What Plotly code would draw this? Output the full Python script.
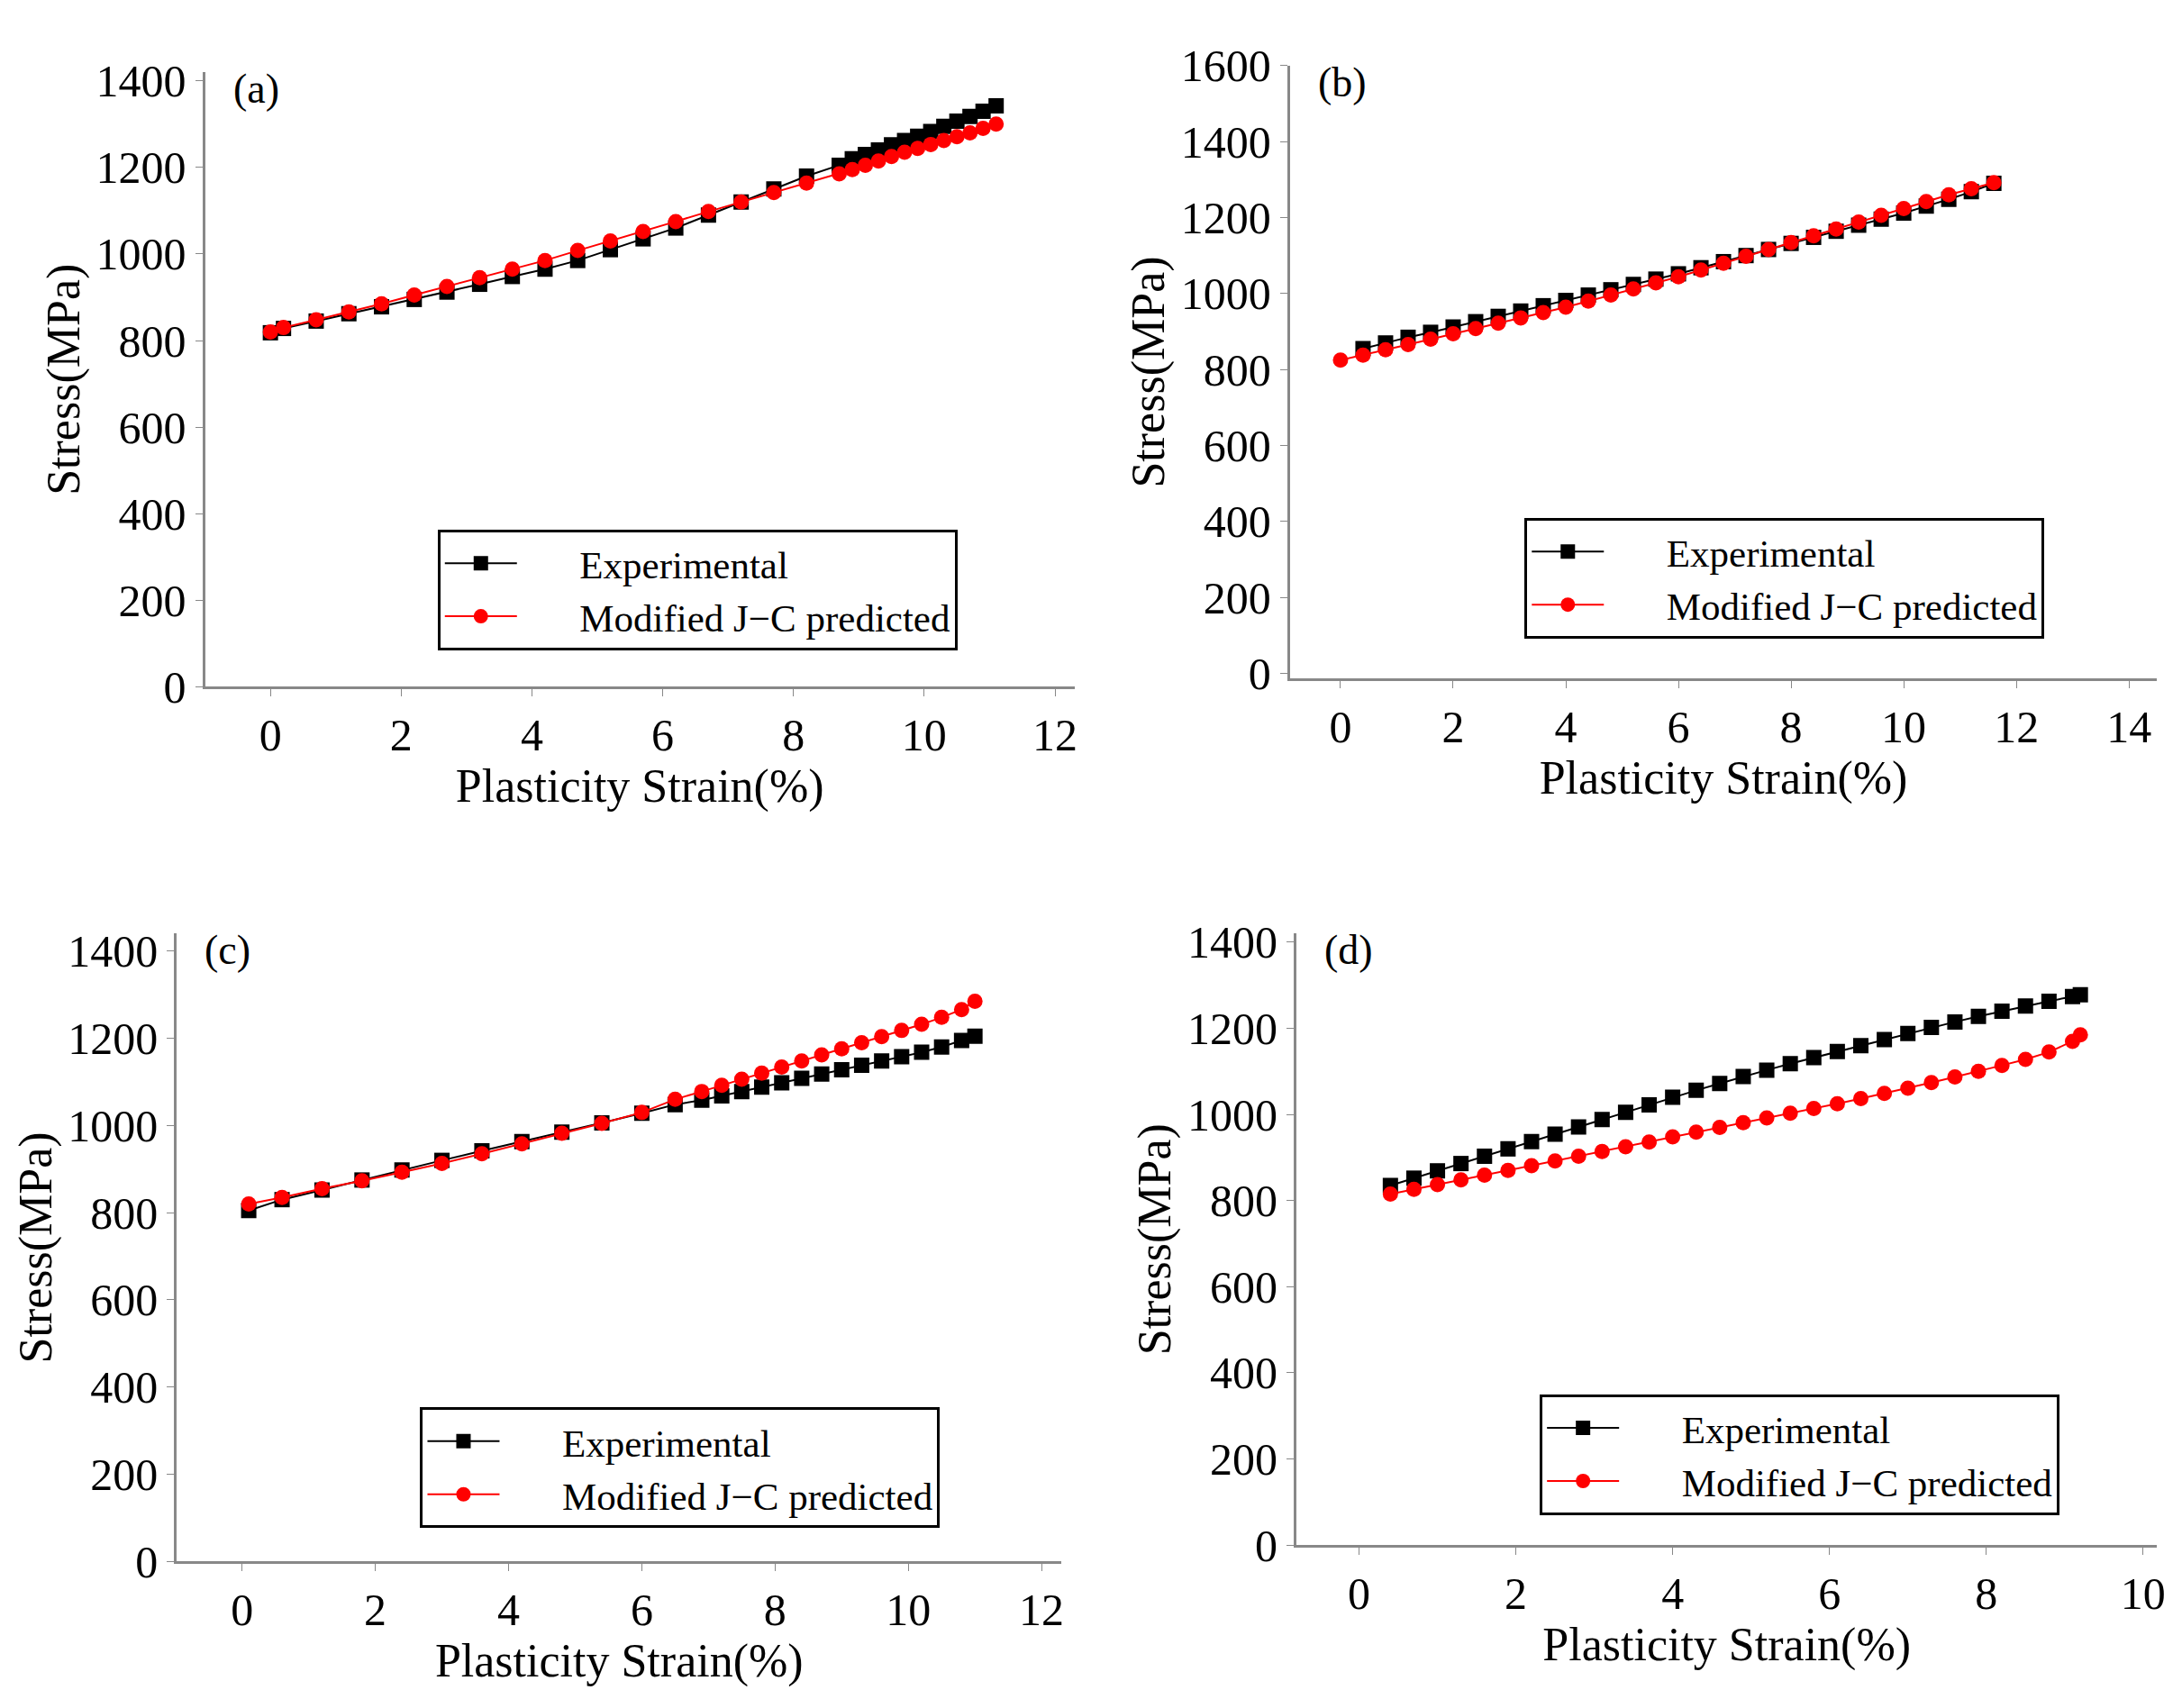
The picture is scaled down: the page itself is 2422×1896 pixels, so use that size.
import plotly.graph_objects as go

# (a)
a_x = [0,0.2,0.7,1.2,1.7,2.2,2.7,3.2,3.7,4.2,4.7,5.2,5.7,6.2,6.7,7.2,7.7,8.2,8.7,8.9,9.1,9.3,9.5,9.7,9.9,10.1,10.3,10.5,10.7,10.9,11.1]
a_exp = [818,828,845,862,878,895,912,930,948,965,985,1010,1035,1060,1090,1120,1150,1180,1205,1220,1230,1240,1252,1262,1272,1283,1295,1307,1318,1330,1342]
a_jc = [820,830,848,866,885,905,925,945,965,985,1008,1030,1052,1075,1098,1120,1142,1164,1185,1195,1205,1215,1225,1235,1244,1253,1262,1271,1280,1290,1300]
# (b)
b_x_exp = [0.4,0.8,1.2,1.6,2.0,2.4,2.8,3.2,3.6,4.0,4.4,4.8,5.2,5.6,6.0,6.4,6.8,7.2,7.6,8.0,8.4,8.8,9.2,9.6,10.0,10.4,10.8,11.2,11.6]
b_exp = [855,870,885,898,912,926,940,954,968,982,996,1010,1024,1038,1052,1068,1084,1100,1116,1132,1148,1164,1180,1196,1212,1230,1248,1268,1290]
b_x_jc = [0,0.4,0.8,1.2,1.6,2.0,2.4,2.8,3.2,3.6,4.0,4.4,4.8,5.2,5.6,6.0,6.4,6.8,7.2,7.6,8.0,8.4,8.8,9.2,9.6,10.0,10.4,10.8,11.2,11.6]
b_jc = [825,838,852,866,880,894,908,922,936,950,964,980,996,1012,1028,1044,1062,1080,1098,1116,1134,1152,1170,1188,1206,1224,1242,1260,1276,1292]
# (c)
c_x = [0.1,0.6,1.2,1.8,2.4,3.0,3.6,4.2,4.8,5.4,6.0,6.5,6.9,7.2,7.5,7.8,8.1,8.4,8.7,9.0,9.3,9.6,9.9,10.2,10.5,10.8,11.0]
c_exp = [805,830,852,875,898,920,942,963,985,1006,1028,1048,1058,1068,1078,1088,1098,1108,1118,1128,1138,1148,1158,1168,1180,1195,1205]
c_jc = [820,835,855,873,893,913,935,958,982,1005,1030,1060,1078,1092,1106,1120,1134,1148,1162,1176,1190,1204,1218,1232,1248,1266,1285]
# (d)
d_x = [0.4,0.7,1.0,1.3,1.6,1.9,2.2,2.5,2.8,3.1,3.4,3.7,4.0,4.3,4.6,4.9,5.2,5.5,5.8,6.1,6.4,6.7,7.0,7.3,7.6,7.9,8.2,8.5,8.8,9.1,9.2]
d_exp = [835,852,869,886,903,920,937,954,971,988,1005,1022,1040,1056,1072,1088,1103,1118,1132,1146,1160,1174,1188,1202,1215,1228,1240,1252,1263,1274,1278]
d_jc = [815,826,837,848,859,870,881,892,903,914,925,936,948,959,970,981,992,1003,1014,1025,1037,1049,1061,1074,1087,1100,1114,1128,1145,1170,1185]

panels = [
    ("(a)", a_x, a_exp, a_x, a_jc, [0.091,0.491], [0.605,0.976], [-1.0,12.3], [0,1420]),
    ("(b)", b_x_exp, b_exp, b_x_jc, b_jc, [0.590,0.989], [0.610,0.980], [-0.9,14.5], [-13,1600]),
    ("(c)", c_x, c_exp, c_x, c_jc, [0.078,0.485], [0.077,0.456], [-0.98,12.3], [0,1440]),
    ("(d)", d_x, d_exp, d_x, d_jc, [0.593,0.989], [0.087,0.456], [-0.8,10.18], [0,1420]),
]
legpos = [(0.198,0.700),(0.698,0.707),(0.190,0.170),(0.705,0.178)]

fig = go.Figure()
FONT = "Liberation Serif"
layout = dict(width=2422, height=1896, margin=dict(l=0,r=0,t=0,b=0),
              plot_bgcolor="white", paper_bgcolor="white",
              font=dict(family=FONT, size=50, color="black"), annotations=[])
for i,(lab,xe,ye,xj,yj,dx,dy,xr,yr) in enumerate(panels):
    n = "" if i==0 else str(i+1)
    leg = "legend" if i==0 else "legend"+str(i+1)
    fig.add_trace(go.Scatter(x=xe,y=ye,mode="lines+markers",name="      Experimental",
        line=dict(color="black",width=2),marker=dict(symbol="square",size=17,color="black"),
        xaxis="x"+n,yaxis="y"+n,legend=leg))
    fig.add_trace(go.Scatter(x=xj,y=yj,mode="lines+markers",name="      Modified J\u2212C predicted",
        line=dict(color="red",width=2),marker=dict(symbol="circle",size=17,color="red"),
        xaxis="x"+n,yaxis="y"+n,legend=leg))
    ax = dict(showgrid=False,zeroline=False,showline=True,linecolor="#888",linewidth=3,
              ticks="outside",ticklen=8,tickcolor="#888",tickfont=dict(size=50))
    layout["xaxis"+n] = dict(ax,domain=dx,range=xr,dtick=2,anchor="y"+n,
        title=dict(text="Plasticity Strain(%)",font=dict(size=52),standoff=0))
    layout["yaxis"+n] = dict(ax,domain=dy,range=yr,dtick=200,anchor="x"+n,
        title=dict(text="Stress(MPa)",font=dict(size=52),standoff=2))
    layout[leg] = dict(x=legpos[i][0],y=legpos[i][1],xanchor="left",yanchor="top",
        bordercolor="black",borderwidth=3,bgcolor="white",font=dict(size=43),
        itemwidth=80,tracegroupgap=0)
    layout["annotations"].append(dict(text=lab,x=dx[0]+0.012,y=dy[1]+0.005,xref="paper",yref="paper",
        xanchor="left",yanchor="top",showarrow=False,font=dict(size=46)))
fig.update_layout(**layout)
fig.write_html("out.html")
